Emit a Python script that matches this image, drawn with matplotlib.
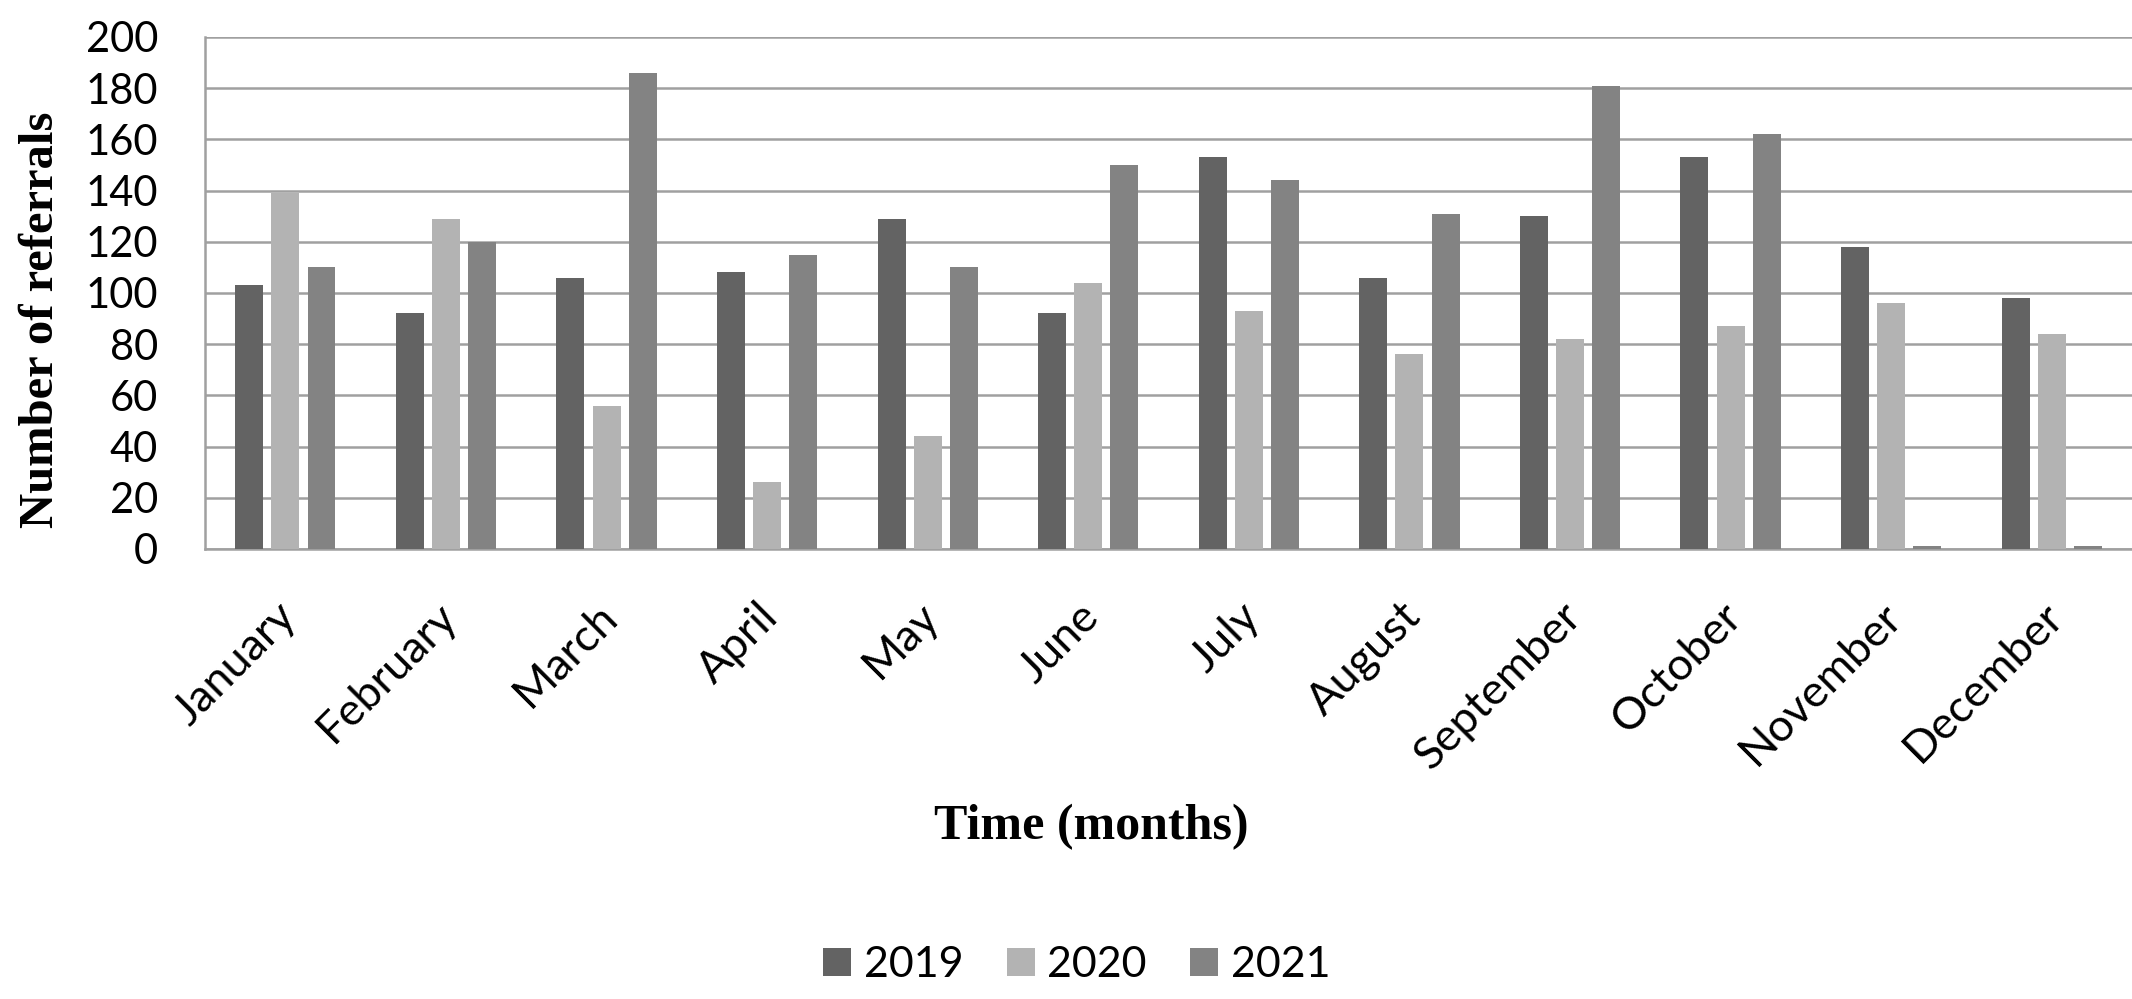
import matplotlib
matplotlib.use("Agg")
import matplotlib.pyplot as plt
import matplotlib.transforms as mtransforms
import numpy as np

months = ["January", "February", "March", "April", "May", "June", "July",
          "August", "September", "October", "November", "December"]
years = ["2019", "2020", "2021"]
v2019 = [103, 92, 106, 108, 129, 92, 153, 106, 130, 153, 118, 98]
v2020 = [139, 129, 56, 26, 44, 104, 93, 76, 82, 87, 96, 84]
v2021 = [110, 120, 186, 115, 110, 150, 144, 131, 181, 162, 1, 1]
colors = ["#636363", "#b3b3b3", "#838383"]
yticks = [0, 20, 40, 60, 80, 100, 120, 140, 160, 180, 200]

fig = plt.figure(figsize=(21.32, 9.99), dpi=100)
ax = fig.add_axes([0.0962, 0.4505, 0.9038, 0.5125])

x = np.arange(len(months))
w = 0.174
off = 0.225
for i, (vals, c, lab) in enumerate(zip([v2019, v2020, v2021], colors, years)):
    ax.bar(x + (i - 1) * off, vals, width=w, color=c, label=lab, zorder=3)

ax.set_xlim(-0.5, len(months) - 0.5)
ax.set_ylim(0, 200)
ax.set_yticks(yticks)
ax.set_yticklabels([str(t) for t in yticks], fontsize=30, family="Lato")
ax.grid(axis="y", color="#a0a0a0", linewidth=1.8, zorder=0)
ax.set_axisbelow(True)
for s in ["top", "right"]:
    ax.spines[s].set_visible(False)
ax.spines["left"].set_color("#a0a0a0")
ax.spines["left"].set_linewidth(1.8)
ax.spines["bottom"].set_color("#a0a0a0")
ax.spines["bottom"].set_linewidth(1.8)
ax.tick_params(axis="y", length=0, pad=34)
ax.tick_params(axis="x", length=0, pad=14)
ax.set_xticks(x)
ax.set_xticklabels(months, rotation=45, ha="right", rotation_mode="anchor",
                   fontsize=32.5, family="Lato")
shift = mtransforms.ScaledTranslation(-10 / 100, -27 / 100, fig.dpi_scale_trans)
for lbl in ax.get_xticklabels():
    lbl.set_transform(lbl.get_transform() + shift)

fig.text(0.019, 0.68, "Number of referrals", rotation=90, ha="center", va="center",
         fontsize=35, fontweight="bold", family="Liberation Serif")
fig.text(0.512, 0.172, "Time (months)", ha="center", va="center",
         fontsize=36, fontweight="bold", family="Liberation Serif")

leg = fig.legend(loc="center", bbox_to_anchor=(0.505, 0.034), ncol=3, frameon=False,
                 prop={"family": "Lato", "size": 31}, handlelength=0.65, handleheight=0.65,
                 handletextpad=0.3, columnspacing=1.0)

fig.savefig("out.png", dpi=100)
